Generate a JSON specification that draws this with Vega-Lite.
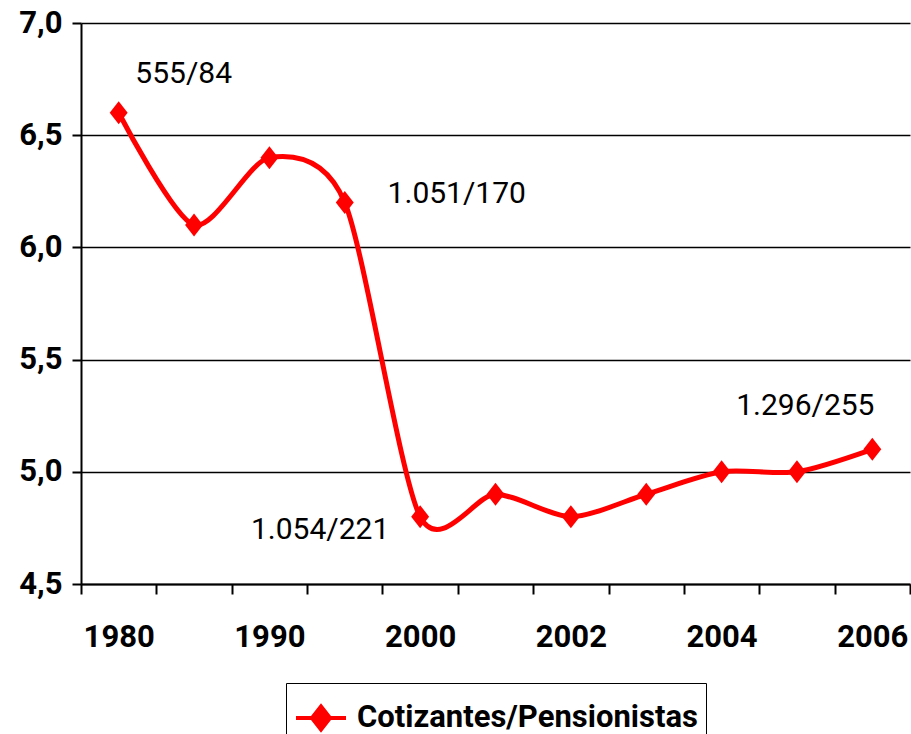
{
  "$schema": "https://vega.github.io/schema/vega-lite/v6.json",
  "width": 829,
  "height": 561,
  "autosize": {"type": "none"},
  "padding": {"left": 81, "top": 23, "right": 1, "bottom": 150},
  "background": "white",
  "data": {
    "values": [
      {"anio": "1980", "valor": 6.6, "serie": "Cotizantes/Pensionistas", "etiqueta": "555/84"},
      {"anio": "1985", "valor": 6.1, "serie": "Cotizantes/Pensionistas", "etiqueta": ""},
      {"anio": "1990", "valor": 6.4, "serie": "Cotizantes/Pensionistas", "etiqueta": ""},
      {"anio": "1995", "valor": 6.2, "serie": "Cotizantes/Pensionistas", "etiqueta": "1.051/170"},
      {"anio": "2000", "valor": 4.8, "serie": "Cotizantes/Pensionistas", "etiqueta": "1.054/221"},
      {"anio": "2001", "valor": 4.9, "serie": "Cotizantes/Pensionistas", "etiqueta": ""},
      {"anio": "2002", "valor": 4.8, "serie": "Cotizantes/Pensionistas", "etiqueta": ""},
      {"anio": "2003", "valor": 4.9, "serie": "Cotizantes/Pensionistas", "etiqueta": ""},
      {"anio": "2004", "valor": 5.0, "serie": "Cotizantes/Pensionistas", "etiqueta": ""},
      {"anio": "2005", "valor": 5.0, "serie": "Cotizantes/Pensionistas", "etiqueta": ""},
      {"anio": "2006", "valor": 5.1, "serie": "Cotizantes/Pensionistas", "etiqueta": "1.296/255"}
    ]
  },
  "encoding": {
    "x": {
      "field": "anio",
      "type": "ordinal",
      "sort": null,
      "scale": {"type": "band", "paddingInner": 0, "paddingOuter": 0},
      "axis": {
        "title": null,
        "labelAngle": 0,
        "tickBand": "extent",
        "labelExpr": "indexof(['1980','1990','2000','2002','2004','2006'], datum.label) >= 0 ? datum.label : ''"
      }
    },
    "y": {
      "field": "valor",
      "type": "quantitative",
      "scale": {"domain": [4.5, 7.0], "nice": false, "zero": false},
      "axis": {
        "title": null,
        "values": [4.5, 5.0, 5.5, 6.0, 6.5, 7.0],
        "labelExpr": "replace(format(datum.value, '.1f'), '.', ',')",
        "grid": true
      }
    }
  },
  "layer": [
    {
      "mark": {"type": "line", "interpolate": "cardinal", "tension": 0.2, "strokeWidth": 5},
      "encoding": {
        "color": {
          "field": "serie",
          "type": "nominal",
          "scale": {"domain": ["Cotizantes/Pensionistas"], "range": ["#ff0000"]},
          "legend": {
            "title": null,
            "orient": "none",
            "legendX": 205,
            "legendY": 660,
            "strokeColor": "black",
            "fillColor": "white",
            "padding": 8,
            "labelFont": "Roboto",
            "labelFontWeight": "bold",
            "labelFontSize": 31,
            "labelColor": "black",
            "labelLimit": 0,
            "labelOffset": 9,
            "symbolType": "M-1,0L1,0M0,-0.46L0.36,0L0,0.46L-0.36,0Z",
            "symbolSize": 2500,
            "symbolStrokeWidth": 4,
            "symbolFillColor": "#ff0000",
            "symbolStrokeColor": "#ff0000"
          }
        }
      }
    },
    {
      "mark": {"type": "point", "shape": "M0,-1L0.78,0L0,1L-0.78,0Z", "filled": true, "size": 529, "opacity": 1, "color": "#ff0000"},
      "encoding": {}
    },
    {
      "transform": [{"filter": "datum.anio == '1980'"}],
      "mark": {"type": "text", "font": "Roboto", "fontSize": 30, "color": "black", "dx": 65, "dy": -39},
      "encoding": {"text": {"field": "etiqueta"}}
    },
    {
      "transform": [{"filter": "datum.anio == '1995'"}],
      "mark": {"type": "text", "font": "Roboto", "fontSize": 30, "color": "black", "dx": 112, "dy": -9},
      "encoding": {"text": {"field": "etiqueta"}}
    },
    {
      "transform": [{"filter": "datum.anio == '2000'"}],
      "mark": {"type": "text", "font": "Roboto", "fontSize": 30, "color": "black", "dx": -100, "dy": 13},
      "encoding": {"text": {"field": "etiqueta"}}
    },
    {
      "transform": [{"filter": "datum.anio == '2006'"}],
      "mark": {"type": "text", "font": "Roboto", "fontSize": 30, "color": "black", "dx": -67, "dy": -43},
      "encoding": {"text": {"field": "etiqueta"}}
    }
  ],
  "config": {
    "view": {"stroke": null},
    "axis": {
      "domainColor": "black",
      "domainWidth": 2,
      "tickColor": "black",
      "tickWidth": 2,
      "tickSize": 10,
      "gridColor": "black",
      "gridWidth": 1.5,
      "gridOpacity": 1,
      "labelFont": "Roboto",
      "labelFontWeight": "bold",
      "labelFontSize": 31,
      "labelColor": "black"
    },
    "axisY": {"labelPadding": 10, "tickSize": 9},
    "axisX": {"labelPadding": 28, "grid": false}
  }
}
